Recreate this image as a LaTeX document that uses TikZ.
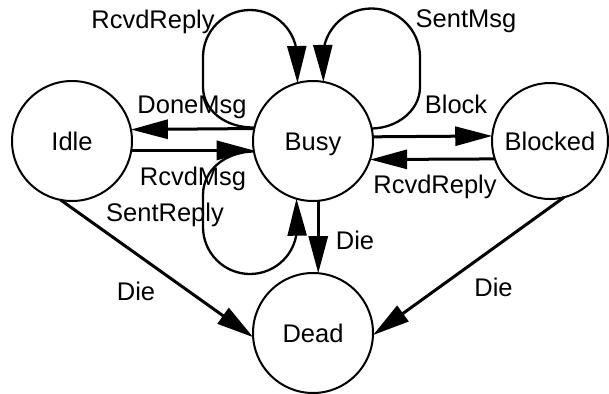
\documentclass[tikz,border=0pt]{standalone}
\usepackage{fontspec}
\setmainfont{Liberation Sans}
\usetikzlibrary{arrows.meta}
\begin{document}
\begin{tikzpicture}[x=1pt,y=1pt,
  state/.style={circle,draw,line width=2pt,minimum size=120pt,inner sep=0pt,outer sep=0pt,
    text height=18.3pt,text depth=0pt,font=\fontsize{25.5}{30}\selectfont},
  lbl/.style={anchor=base,inner sep=0pt,font=\fontsize{25.5}{30}\selectfont},
  edge/.style={line width=3pt,-{Triangle[length=37pt,width=19pt]}},
  loopedge/.style={line width=2.3pt,-{Triangle[length=37pt,width=19pt]}}]
\useasboundingbox (0,0) rectangle (609,-393);
\node[state] (Idle) at (72,-141) {Idle};
\node[state] (Busy) at (313,-141) {Busy};
\node[state,minimum size=116pt] (Blocked) at (550,-141) {Blocked};
\node[state] (Dead) at (313,-333) {Dead};
% straight transitions
\draw[edge] (Busy.168.5) -- (Idle.11.5);
\draw[edge] (Idle.-9.6) -- (Busy.189.6);
\draw[edge] (Busy.4.8) -- (Blocked.175.1);
\draw[edge] (Blocked.198.1) -- (Busy.342.5);
\draw[edge] (Busy.-85.5) -- (Dead.85.5);
\draw[edge] (Idle.-101) -- (Dead.184.6);
\draw[edge] (Blocked.-76) -- (Dead.-2.8);
% self loops
\draw[loopedge] (Busy.167.5) .. controls (225,-128) and (203,-110) .. (203,-87) -- (203,-57)
  arc[start angle=180,end angle=0,radius=47] -- (Busy.105);
\draw[loopedge] (Busy.12.5) .. controls (398,-128) and (420,-110) .. (420,-87) -- (420,-57)
  arc[start angle=0,end angle=180,radius=48.5] -- (Busy.80.4);
\draw[loopedge] (Busy.190.6) .. controls (225,-152) and (203,-170) .. (203,-195) -- (203,-227)
  arc[start angle=180,end angle=360,radius=47] -- (Busy.254.5);
% labels
\node[lbl] (lRR1) at (153,-28.3) {RcvdReply};
\node[lbl] (lSM) at (466,-28) {SentMsg};
\node[lbl] (lDM) at (192,-113) {DoneMsg};
\node[lbl] (lBl) at (456,-113) {Block};
\node[lbl] (lRM) at (193,-185.5) {RcvdMsg};
\node[lbl] (lRR2) at (435,-193) {RcvdReply};
\node[lbl] (lSR) at (165,-221.5) {SentReply};
\node[lbl] (lD1) at (355,-249) {Die};
\node[lbl] (lD2) at (136,-300) {Die};
\node[lbl] (lD3) at (493.5,-296.7) {Die};
\end{tikzpicture}
\end{document}
